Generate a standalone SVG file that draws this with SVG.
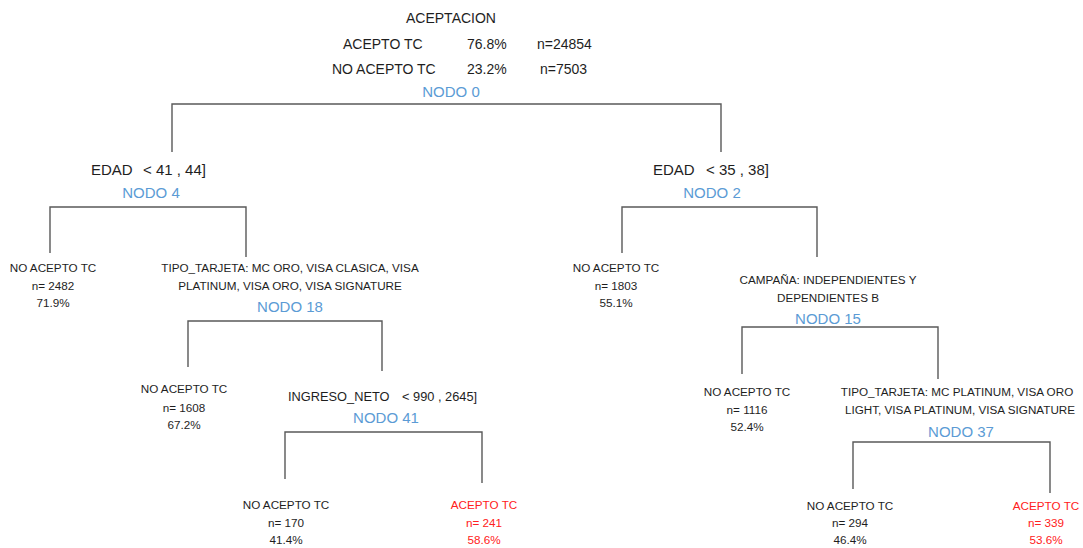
<svg xmlns="http://www.w3.org/2000/svg" width="1083" height="548" viewBox="0 0 1083 548">
<style>
text{font-family:"Liberation Sans",Arial,sans-serif;fill:#1e1e1e}
.h{font-size:14px}
.c{font-size:15px}
.n{font-size:15px;fill:#5b9bd5;text-anchor:middle}
.l{font-size:11.7px;text-anchor:middle}
.s{font-size:12.8px}
.r{fill:#ff2020}
.e{fill:none;stroke:#595959;stroke-width:1.4}
</style>
<rect width="1083" height="548" fill="#fff"/>
<g id="connectors">
<path class="e" d="M172 152V104H721V152"/>
<path class="e" d="M50 253V207H246V257"/>
<path class="e" d="M188 367V321H382V371"/>
<path class="e" d="M285 479V432H482V483"/>
<path class="e" d="M622 253V207H817V257"/>
<path class="e" d="M742 374V327H938V379"/>
<path class="e" d="M853 489V442H1050V493"/>
</g>
<g id="nodo0">
<text class="h" x="451" y="23" text-anchor="middle">ACEPTACION</text>
<text class="h" x="343" y="49">ACEPTO TC</text>
<text class="h" x="467" y="49">76.8%</text>
<text class="h" x="537" y="49">n=24854</text>
<text class="h" x="332" y="74">NO ACEPTO TC</text>
<text class="h" x="467" y="74">23.2%</text>
<text class="h" x="540" y="74">n=7503</text>
<text class="n" x="451" y="97">NODO 0</text>
</g>
<g id="nodo4">
<text class="c" x="91" y="175">EDAD</text>
<text class="c" x="143" y="175">&lt; 41 , 44]</text>
<text class="n" x="151" y="198">NODO 4</text>
</g>
<g id="leaf-2482">
<text class="l" x="53" y="272">NO ACEPTO TC</text>
<text class="l" x="53" y="290">n= 2482</text>
<text class="l" x="53" y="307">71.9%</text>
</g>
<g id="nodo18">
<text class="l" x="290" y="272">TIPO_TARJETA: MC ORO, VISA CLASICA, VISA</text>
<text class="l" x="290" y="290">PLATINUM, VISA ORO, VISA SIGNATURE</text>
<text class="n" x="290" y="312">NODO 18</text>
</g>
<g id="leaf-1608">
<text class="l" x="184" y="393">NO ACEPTO TC</text>
<text class="l" x="184" y="412">n= 1608</text>
<text class="l" x="184" y="429">67.2%</text>
</g>
<g id="nodo41">
<text class="s" x="288" y="401">INGRESO_NETO</text>
<text class="s" x="402" y="401">&lt; 990 , 2645]</text>
<text class="n" x="386" y="423">NODO 41</text>
</g>
<g id="leaf-170">
<text class="l" x="286" y="509">NO ACEPTO TC</text>
<text class="l" x="286" y="527">n= 170</text>
<text class="l" x="286" y="544">41.4%</text>
</g>
<g id="leaf-241">
<text class="l r" x="484" y="509">ACEPTO TC</text>
<text class="l r" x="484" y="527">n= 241</text>
<text class="l r" x="484" y="544">58.6%</text>
</g>
<g id="nodo2">
<text class="c" x="653" y="175">EDAD</text>
<text class="c" x="706" y="175">&lt; 35 , 38]</text>
<text class="n" x="712" y="198">NODO 2</text>
</g>
<g id="leaf-1803">
<text class="l" x="616" y="272">NO ACEPTO TC</text>
<text class="l" x="616" y="290">n= 1803</text>
<text class="l" x="616" y="307">55.1%</text>
</g>
<g id="nodo15">
<text class="l" x="828" y="284">CAMPAÑA: INDEPENDIENTES Y</text>
<text class="l" x="828" y="302">DEPENDIENTES B</text>
<text class="n" x="828" y="324">NODO 15</text>
</g>
<g id="leaf-1116">
<text class="l" x="747" y="396">NO ACEPTO TC</text>
<text class="l" x="747" y="414">n= 1116</text>
<text class="l" x="747" y="431">52.4%</text>
</g>
<g id="nodo37">
<text class="l" x="957" y="396">TIPO_TARJETA: MC PLATINUM, VISA ORO</text>
<text class="l" x="960" y="414">LIGHT, VISA PLATINUM, VISA SIGNATURE</text>
<text class="n" x="961" y="437">NODO 37</text>
</g>
<g id="leaf-294">
<text class="l" x="850" y="510">NO ACEPTO TC</text>
<text class="l" x="850" y="527">n= 294</text>
<text class="l" x="850" y="544">46.4%</text>
</g>
<g id="leaf-339">
<text class="l r" x="1046" y="510">ACEPTO TC</text>
<text class="l r" x="1046" y="527">n= 339</text>
<text class="l r" x="1046" y="544">53.6%</text>
</g>
</svg>
